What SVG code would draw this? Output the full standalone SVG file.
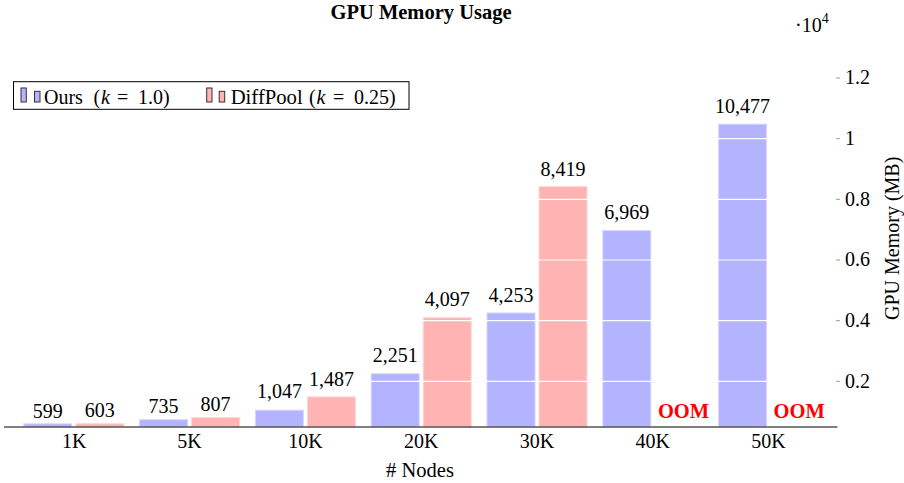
<svg xmlns="http://www.w3.org/2000/svg" width="904" height="483" viewBox="0 0 904 483">
<defs>
<style>
.v { font-family: 'Liberation Serif', serif; font-size: 20px; text-anchor: middle; }
.tick { font-family: 'Liberation Serif', serif; font-size: 20px; text-anchor: middle; }
.yt { font-family: 'Liberation Serif', serif; font-size: 20px; }
.blue { fill: #b3b3ff; stroke: #d6d6ff; stroke-width: 1; }
.red { fill: #ffb3b3; stroke: #ffd6d6; stroke-width: 1; }
.lb { fill: #b3b3ff; stroke: #333; stroke-width: 1; }
.lr { fill: #ffb3b3; stroke: #333; stroke-width: 1; }
.grid { stroke: #fff; stroke-width: 1.2; }
.ytick { stroke: #999; stroke-width: 1; }
.oom { font-family: 'Liberation Serif', serif; font-size: 20.5px; font-weight: bold; fill: #ff0000; text-anchor: middle; }
</style>
</defs>

<text x="421" y="18.5" font-family="Liberation Serif" font-size="20.5" font-weight="bold" text-anchor="middle">GPU Memory Usage</text>

<g id="bars">
  <g id="g1K">
    <rect class="blue" x="23.8" y="423.83" width="48" height="3.17"/>
    <rect class="red" x="75.8" y="423.71" width="48" height="3.29"/>
  </g>
  <g id="g5K">
    <rect class="blue" x="139.6" y="419.7" width="48" height="7.3"/>
    <rect class="red" x="191.6" y="417.52" width="48" height="9.48"/>
  </g>
  <g id="g10K">
    <rect class="blue" x="255.4" y="410.24" width="48" height="16.76"/>
    <rect class="red" x="307.4" y="396.89" width="48" height="30.11"/>
  </g>
  <g id="g20K">
    <rect class="blue" x="371.2" y="373.72" width="48" height="53.28"/>
    <rect class="red" x="423.2" y="317.72" width="48" height="109.28"/>
  </g>
  <g id="g30K">
    <rect class="blue" x="487" y="312.99" width="48" height="114.01"/>
    <rect class="red" x="539" y="186.62" width="48" height="240.38"/>
  </g>
  <g id="g40K">
    <rect class="blue" x="602.8" y="230.61" width="48" height="196.39"/>
  </g>
  <g id="g50K">
    <rect class="blue" x="718.6" y="124.2" width="48" height="302.8"/>
  </g>
</g>

<g id="grid">
  <line class="grid" x1="4" y1="381.3" x2="837" y2="381.3"/>
  <line class="grid" x1="4" y1="320.7" x2="837" y2="320.7"/>
  <line class="grid" x1="4" y1="260" x2="837" y2="260"/>
  <line class="grid" x1="4" y1="199.3" x2="837" y2="199.3"/>
  <line class="grid" x1="4" y1="138.7" x2="837" y2="138.7"/>
  <line class="grid" x1="4" y1="78" x2="837" y2="78"/>
</g>

<g id="axes">
  <line x1="4" y1="427" x2="837.5" y2="427" stroke="#555" stroke-width="1.3"/>
  <line class="ytick" x1="836" y1="381.3" x2="840" y2="381.3"/>
  <line class="ytick" x1="836" y1="320.7" x2="840" y2="320.7"/>
  <line class="ytick" x1="836" y1="260" x2="840" y2="260"/>
  <line class="ytick" x1="836" y1="199.3" x2="840" y2="199.3"/>
  <line class="ytick" x1="836" y1="138.7" x2="840" y2="138.7"/>
  <line class="ytick" x1="836" y1="78" x2="840" y2="78"/>
  <text class="yt" x="845" y="387.5">0.2</text>
  <text class="yt" x="845" y="327">0.4</text>
  <text class="yt" x="845" y="266.3">0.6</text>
  <text class="yt" x="845" y="205.6">0.8</text>
  <text class="yt" x="845" y="145">1</text>
  <text class="yt" x="845" y="84.3">1.2</text>
  <text x="795" y="31.7" font-family="Liberation Serif" font-size="20">·10<tspan dy="-8.5" font-size="14">4</tspan></text>
  <text transform="translate(899,238.3) rotate(-90)" text-anchor="middle" font-family="Liberation Serif" font-size="20">GPU Memory (MB)</text>
  <text class="tick" x="74.3" y="448.3">1K</text>
  <text class="tick" x="189.6" y="448.3">5K</text>
  <text class="tick" x="305.4" y="448.3">10K</text>
  <text class="tick" x="421.2" y="448.3">20K</text>
  <text class="tick" x="537" y="448.3">30K</text>
  <text class="tick" x="652.8" y="448.3">40K</text>
  <text class="tick" x="768.6" y="448.3">50K</text>
  <text x="420" y="476.7" text-anchor="middle" font-family="Liberation Serif" font-size="20.5"># Nodes</text>
</g>

<g id="labels">
  <text class="v" x="47.8" y="417.5">599</text>
  <text class="v" x="99.8" y="417.3">603</text>
  <text class="v" x="163.6" y="413.3">735</text>
  <text class="v" x="215.6" y="410.8">807</text>
  <text class="v" x="279.4" y="398.3">1,047</text>
  <text class="v" x="331.4" y="385.5">1,487</text>
  <text class="v" x="395.2" y="361.7">2,251</text>
  <text class="v" x="447.2" y="305.7">4,097</text>
  <text class="v" x="511" y="301.5">4,253</text>
  <text class="v" x="563" y="175.5">8,419</text>
  <text class="v" x="626.8" y="218.5">6,969</text>
  <text class="v" x="742.6" y="113">10,477</text>
  <text class="oom" x="683.5" y="418.3">OOM</text>
  <text class="oom" x="799.2" y="418.3">OOM</text>
</g>

<g id="legend">
  <rect x="13.5" y="81.7" width="395.5" height="27.6" fill="#fff" stroke="#000" stroke-width="1"/>
  <rect class="lb" x="21" y="88" width="5.3" height="14"/>
  <rect class="lb" x="34.5" y="91.3" width="5.5" height="10.7"/>
  <text font-family="Liberation Serif" font-size="20" y="104.3"><tspan x="44">Ours</tspan><tspan x="93.5">(</tspan><tspan x="101" font-style="italic">k</tspan><tspan x="117">=</tspan><tspan x="138">1.0)</tspan></text>
  <rect class="lr" x="206.7" y="88" width="5.3" height="14"/>
  <rect class="lr" x="219.2" y="91.3" width="5.5" height="10.7"/>
  <text font-family="Liberation Serif" font-size="20" y="104.3"><tspan x="230.7" textLength="72" lengthAdjust="spacingAndGlyphs">DiffPool</tspan><tspan x="309.1">(</tspan><tspan x="316.5" font-style="italic">k</tspan><tspan x="333">=</tspan><tspan x="354.1">0.25)</tspan></text>
</g>
</svg>
